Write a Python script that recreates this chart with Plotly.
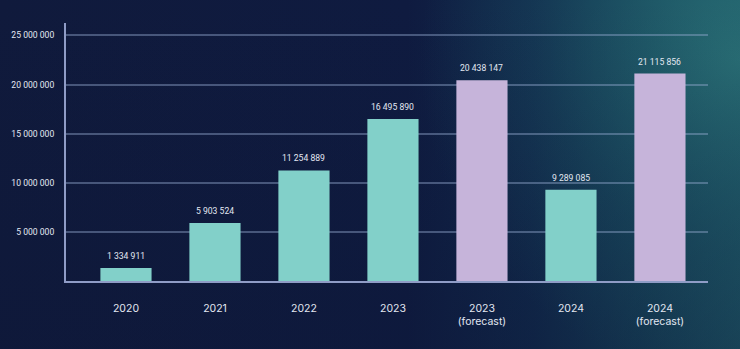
import base64
import plotly.graph_objects as go

# Yearly totals (with forecasts)
categories = ["2020", "2021", "2022", "2023", "2023<br>(forecast)", "2024", "2024<br>(forecast)"]
values = [1334911, 5903524, 11254889, 16495890, 20438147, 9289085, 21115856]
is_forecast = [False, False, False, False, True, False, True]
y_ticks = [5000000, 10000000, 15000000, 20000000, 25000000]

ACTUAL = "#82d0c9"
FORECAST = "#c6b4da"
TEXT = "#e3e8f2"
GRID = "rgba(150,172,210,0.42)"
AXIS = "#8f9cc6"

bar_colors = [FORECAST if f else ACTUAL for f in is_forecast]


def spaced(n):
    return f"{n:,}".replace(",", " ")


# Background: navy to teal gradient with a glow in the upper right
svg = """<svg xmlns='http://www.w3.org/2000/svg' width='740' height='349' viewBox='0 0 740 349' preserveAspectRatio='none'>
<defs>
<linearGradient id='h' x1='0' y1='0' x2='1' y2='0'>
<stop offset='0' stop-color='#101a3c'/>
<stop offset='0.55' stop-color='#0f1b40'/>
<stop offset='0.72' stop-color='#112a4c'/>
<stop offset='0.87' stop-color='#17445a'/>
<stop offset='1' stop-color='#1f5a68'/>
</linearGradient>
<radialGradient id='g' cx='740' cy='60' r='320' gradientUnits='userSpaceOnUse'>
<stop offset='0' stop-color='#2b7378' stop-opacity='0.85'/>
<stop offset='0.6' stop-color='#1f5c6a' stop-opacity='0.3'/>
<stop offset='1' stop-color='#1f5c6a' stop-opacity='0'/>
</radialGradient>
<linearGradient id='v' x1='0' y1='0' x2='0' y2='1'>
<stop offset='0' stop-color='#0c1636' stop-opacity='0'/>
<stop offset='1' stop-color='#0c1636' stop-opacity='0.35'/>
</linearGradient>
</defs>
<rect width='740' height='349' fill='url(#h)'/>
<rect width='740' height='349' fill='url(#g)'/>
<rect width='740' height='349' fill='url(#v)'/>
</svg>"""
bg_src = "data:image/svg+xml;base64," + base64.b64encode(svg.encode()).decode()

xs = list(range(len(categories)))

fig = go.Figure()
fig.add_trace(go.Bar(
    x=xs,
    y=values,
    marker=dict(color=bar_colors, line=dict(width=0)),
    width=0.575,
    hoverinfo="skip",
))

# Value labels above each bar
for x, v in zip(xs, values):
    fig.add_annotation(
        x=x, y=v, text=spaced(v), showarrow=False,
        yanchor="middle", yshift=12,
        font=dict(family="Roboto", size=8.6, color=TEXT),
    )

fig.update_layout(
    width=740,
    height=349,
    margin=dict(l=66, r=32, t=23, b=68),
    paper_bgcolor="#101a3c",
    plot_bgcolor="rgba(0,0,0,0)",
    showlegend=False,
    font=dict(family="Roboto", color=TEXT),
    images=[dict(
        source=bg_src, xref="paper", yref="paper",
        x=-66 / 642, y=1 + 23 / 258, sizex=740 / 642, sizey=349 / 258,
        xanchor="left", yanchor="top", sizing="stretch", layer="below",
    )],
    xaxis=dict(
        range=[-0.674, 6.54],
        tickvals=xs,
        ticktext=categories,
        tickfont=dict(family="Inter", size=10.5, color=TEXT),
        ticks="outside", ticklen=16, tickcolor="rgba(0,0,0,0)",
        showgrid=False, zeroline=False,
        showline=True, linecolor=AXIS, linewidth=2,
        automargin=False,
        fixedrange=True,
    ),
    yaxis=dict(
        range=[0, 26270000],
        tickvals=y_ticks,
        ticktext=[spaced(t) for t in y_ticks],
        tickfont=dict(family="Roboto", size=8.6, color=TEXT),
        ticks="outside", ticklen=8, tickcolor="rgba(0,0,0,0)",
        showgrid=True, gridcolor=GRID, gridwidth=2,
        zeroline=False,
        showline=True, linecolor=AXIS, linewidth=2,
        automargin=False,
        fixedrange=True,
    ),
)

fig.write_html("out.html")
